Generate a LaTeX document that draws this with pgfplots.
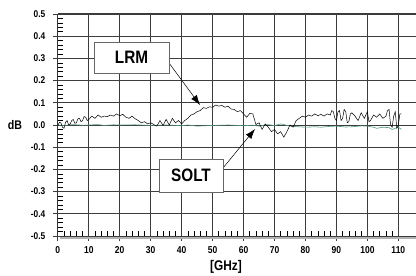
\documentclass[border=0pt]{standalone}
\usepackage{pgfplots}
\pgfplotsset{compat=1.18}
\usetikzlibrary{arrows.meta}
\usepackage{fontspec}
\setmainfont{Liberation Sans}[FakeStretch=0.85]
\definecolor{solt}{RGB}{80,150,128}
\definecolor{gridc}{RGB}{60,60,60}
\newcommand\xf{\fontsize{10}{11}\selectfont\bfseries}
\newcommand\yf{\fontsize{9.8}{10}\selectfont\bfseries}
\begin{document}
\begin{tikzpicture}
\begin{axis}[
  at={(0,0)}, anchor=south west,
  scale only axis, width=358.2pt, height=222pt,
  xmin=0, xmax=115.7, ymin=-0.5, ymax=0.5,
  axis line style={draw=none},
  xtick={0,10,20,30,40,50,60,70,80,90,100,110},
  xticklabels={\xf 0,\xf 10,\xf 20,\xf 30,\xf 40,\xf 50,\xf 60,\xf 70,\xf 80,\xf 90,\xf 100,\xf 110},
  ytick={-0.5,-0.4,-0.3,-0.2,-0.1,0,0.1,0.2,0.3,0.4,0.5},
  yticklabels={\yf -0.5,\yf -0.4,\yf -0.3,\yf -0.2,\yf -0.1,\yf 0.0,\yf 0.1,\yf 0.2,\yf 0.3,\yf 0.4,\yf 0.5},
  xtick pos=bottom, ytick pos=left,
  minor x tick num=4, minor y tick num=4,
  tick align=inside,
  major tick length=0pt, minor tick length=5pt,
  minor tick style={black, line width=0.6pt},
  grid=major,
  major grid style={gridc, line width=0.9pt},
  /pgf/number format/assume math mode=true,
  yticklabel style={xshift=-9pt},
  xticklabel style={yshift=-7pt},
  extra x ticks={0,10,20,30,40,50,60,70,80,90,100,110},
  extra y ticks={-0.5,-0.4,-0.3,-0.2,-0.1,0,0.1,0.2,0.3,0.4,0.5},
  extra x tick labels={}, extra y tick labels={},
  extra tick style={tick align=outside, major tick length=5pt, grid=none, major tick style={gridc, line width=0.9pt}},
  clip=true,
]
\addplot[solt, line width=0.6pt] coordinates {
(0,0.0) (2,-0.002) (5,0.002) (8,-0.001) (10,0.0) (13,0.002) (15,-0.002) (18,0.001) (20,0.0) (25,0.001) (30,-0.002) (35,0.0) (40,-0.003) (42,0.0) (45,-0.005) (50,-0.002) (55,0.0) (60,-0.003) (63,-0.001) (65,-0.005) (68,0.002) (70,-0.003) (72,0.005) (75,-0.005) (78,-0.008) (80,-0.01) (83,-0.008) (85,-0.01) (88,-0.006) (90,-0.005) (93,-0.009) (95,-0.008) (98,-0.004) (100,-0.005) (102,-0.01) (103,-0.015) (105,-0.01) (107,-0.012) (108,-0.02) (110,-0.01) (111,-0.02)
};
\addplot[black, line width=0.5pt] coordinates {
(0,-0.005) (0.5,0.012) (1,0.01) (1.5,-0.01) (2,-0.015) (2.5,0.012) (3,0.02) (3.5,0.0) (4,0.005) (4.5,0.02) (5,0.025) (5.5,0.008) (6,0.01) (6.5,0.028) (7,0.03) (7.5,0.015) (8,0.02) (8.5,0.038) (9,0.035) (9.5,0.02) (10,0.025)
(11,0.04) (12,0.03) (13,0.045) (14,0.035) (15,0.04) (16,0.038) (17,0.045) (18,0.04) (19,0.05) (20,0.042) (21,0.048) (22,0.035) (23,0.03) (24,0.04) (25,0.028) (26,0.02) (27,0.01) (28,0.015) (29,0.005) (30,0.01)
(31,0.002) (32,-0.005) (33,0.02) (34,-0.002) (35,0.025) (36,0.0) (37,0.03) (38,0.01) (39,0.02) (40,0.005) (41,0.02) (42,0.03) (43,0.045) (44,0.05) (45,0.06) (46,0.065) (47,0.078) (48,0.075) (49,0.082) (50,0.08)
(51,0.09) (52,0.085) (53,0.088) (54,0.08) (55,0.085) (56,0.072) (57,0.07) (58,0.06) (59,0.065) (60,0.05) (61,0.035) (62,0.052) (63,0.05) (64,0.002) (65,0.01) (66,-0.02) (67,0.005) (68,-0.01) (69,-0.03) (70,-0.02)
(71,-0.04) (72,-0.03) (73,-0.055) (74,-0.03) (75,0.0) (76,-0.01) (77,0.02) (78,0.03) (79,0.04) (80,0.035) (81,0.045) (82,0.04) (83,0.05) (84,0.042) (85,0.048) (86,0.04) (87,0.05) (88,0.045) (88.5,0.065) (89,0.06) (89.5,0.03) (90,0.02)
(90.5,0.06) (91,0.065) (91.5,0.02) (92,0.03) (92.5,0.07) (93,0.06) (93.5,0.01) (94,0.015) (94.5,0.05) (95,0.055) (96,0.04) (97,0.02) (98,0.055) (99,0.03) (100,0.06) (100.5,0.015) (101,0.02) (102,0.045) (103,0.035) (104,0.05) (105,0.03) (106,0.04) (106.5,0.065) (107,0.07) (107.5,0.0) (108,-0.01) (108.5,0.04) (109,0.06) (109.5,-0.015) (110,0.0) (110.5,0.05) (111,0.05)
};
\draw[black, line width=0.8pt] (rel axis cs:0,0) -- (rel axis cs:0,1);
\draw[black, line width=0.9pt] (rel axis cs:0,0) -- (rel axis cs:1,0);
\draw[gridc, line width=1.4pt] (rel axis cs:0,1) -- (rel axis cs:1,1);
\end{axis}
\draw[black!30, line width=2.2pt] (2pt,-2pt) -- (358.2pt,-2pt);
\node[font=\fontsize{12.5}{13}\selectfont\bfseries] at (-42.8pt,111pt) {dB};
\node[font=\fontsize{14}{15}\selectfont\bfseries] at (168.2pt,-31pt) {[GHz]};
\draw[black, line width=0.5pt, -{Latex[length=10pt,width=7pt]}] (111.2pt,173pt) -- (142.2pt,131pt);
\draw[black, line width=0.5pt, -{Latex[length=10pt,width=7pt]}] (165.2pt,68pt) -- (197.2pt,107pt);
\node[draw=black!60, fill=white, line width=0.8pt, minimum width=75pt, minimum height=31pt, inner sep=0pt, font=\fontsize{18}{19}\selectfont\bfseries] at (73.7pt,178.5pt) {LRM};
\node[draw=black!60, fill=white, line width=0.8pt, minimum width=64pt, minimum height=33pt, inner sep=0pt, font=\fontsize{18}{19}\selectfont\bfseries] at (133.2pt,60.5pt) {SOLT};
\pgfresetboundingbox
\path (-57.8pt,-40pt) rectangle (358.2pt,236pt);
\end{tikzpicture}
\end{document}
